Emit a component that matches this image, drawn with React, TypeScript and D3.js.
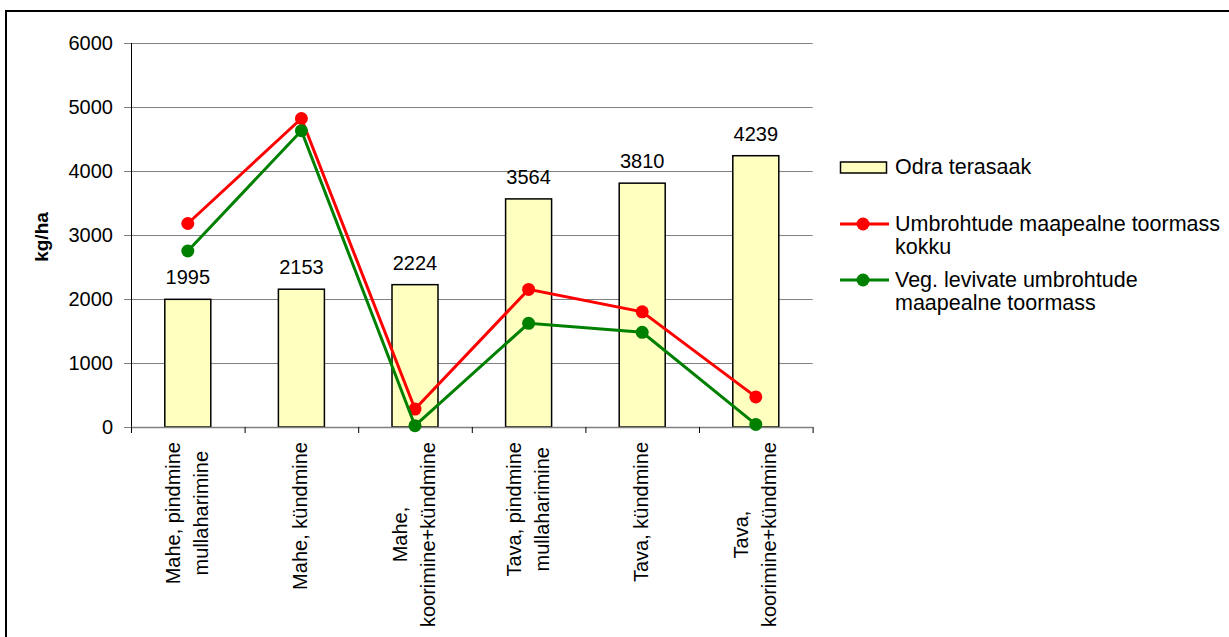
import React, { useEffect, useRef } from "react";
import * as d3 from "d3";

const categories: string[][] = [
  ["Mahe, pindmine", "mullaharimine"],
  ["Mahe, kündmine"],
  ["Mahe,", "koorimine+kündmine"],
  ["Tava, pindmine", "mullaharimine"],
  ["Tava, kündmine"],
  ["Tava,", "koorimine+kündmine"],
];
const barValues = [1995, 2153, 2224, 3564, 3810, 4239];
const redValues = [3180, 4820, 280, 2150, 1800, 470];
const greenValues = [2750, 4630, 20, 1620, 1480, 40];
const yTicks = [0, 1000, 2000, 3000, 4000, 5000, 6000];
const legendBar = "Odra terasaak";
const legendRed = ["Umbrohtude maapealne toormass", "kokku"];
const legendGreen = ["Veg. levivate umbrohtude", "maapealne toormass"];
const yTitle = "kg/ha";

const FONT = "'Liberation Sans', Arial, sans-serif";

export default function App() {
  const ref = useRef<SVGSVGElement | null>(null);

  useEffect(() => {
    const svg = d3.select(ref.current);
    svg.selectAll("*").remove();

    const left = 131, right = 812.6, top = 43, bottom = 427;
    const idx = categories.map((_, i) => String(i));
    const x = d3.scaleBand<string>().domain(idx).range([left, right]).padding(0);
    const y = d3.scaleLinear().domain([0, 6000]).range([bottom, top]);
    const cx = (i: number) => (x(String(i)) as number) + x.bandwidth() / 2;

    // outer border
    svg.append("rect").attr("x", 6).attr("y", 11).attr("width", 1300).attr("height", 700)
      .attr("fill", "none").attr("stroke", "#000").attr("stroke-width", 2);

    // grid lines
    svg.append("g").selectAll("line").data(yTicks.filter((t) => t > 0)).join("line")
      .attr("x1", left).attr("x2", right)
      .attr("y1", (d) => y(d) + 0.5).attr("y2", (d) => y(d) + 0.5)
      .attr("stroke", "#808080").attr("stroke-width", 1);

    // y ticks
    svg.append("g").selectAll("line").data(yTicks).join("line")
      .attr("x1", left - 7).attr("x2", left)
      .attr("y1", (d) => y(d) + 0.5).attr("y2", (d) => y(d) + 0.5)
      .attr("stroke", "#808080").attr("stroke-width", 1);
    svg.append("g").selectAll("text").data(yTicks).join("text")
      .attr("x", 113).attr("y", (d) => y(d) + 7)
      .attr("text-anchor", "end").attr("font-family", FONT).attr("font-size", 20)
      .attr("fill", "#000").text((d) => String(d));

    // bars
    const bw = 46;
    svg.append("g").selectAll("rect").data(barValues).join("rect")
      .attr("x", (_, i) => cx(i) - bw / 2).attr("width", bw)
      .attr("y", (d) => y(d)).attr("height", (d) => bottom - y(d))
      .attr("fill", "#FFFFC0").attr("stroke", "#000").attr("stroke-width", 1.5);
    svg.append("g").selectAll("text").data(barValues).join("text")
      .attr("x", (_, i) => cx(i)).attr("y", (d) => y(d) - 15)
      .attr("text-anchor", "middle").attr("font-family", FONT).attr("font-size", 20)
      .attr("fill", "#000").text((d) => String(d));

    // axes lines
    svg.append("line").attr("x1", left + 0.5).attr("x2", left + 0.5).attr("y1", top).attr("y2", bottom + 6)
      .attr("stroke", "#000").attr("stroke-width", 1);
    svg.append("line").attr("x1", left).attr("x2", right).attr("y1", bottom + 0.5).attr("y2", bottom + 0.5)
      .attr("stroke", "#808080").attr("stroke-width", 1.5);
    svg.append("g").selectAll("line").data(d3.range(categories.length + 1)).join("line")
      .attr("x1", (i) => left + i * x.bandwidth() + 0.5).attr("x2", (i) => left + i * x.bandwidth() + 0.5)
      .attr("y1", bottom).attr("y2", bottom + 6)
      .attr("stroke", "#000").attr("stroke-width", 1);

    // lines
    const line = d3.line<number>().x((_, i) => cx(i)).y((d) => y(d));
    const drawSeries = (vals: number[], color: string) => {
      svg.append("path").datum(vals).attr("d", line).attr("fill", "none")
        .attr("stroke", color).attr("stroke-width", 3);
      svg.append("g").selectAll("circle").data(vals).join("circle")
        .attr("cx", (_, i) => cx(i)).attr("cy", (d) => y(d)).attr("r", 6.5).attr("fill", color);
    };
    drawSeries(redValues, "#FF0000");
    drawSeries(greenValues, "#008000");

    // x labels
    categories.forEach((lines, i) => {
      const g = svg.append("g").attr("transform", `translate(${cx(i)},442) rotate(-90)`);
      const texts = lines.map((l, j) =>
        g.append("text").attr("font-family", FONT).attr("font-size", 20).attr("fill", "#000")
          .attr("y", 6 + (j - (lines.length - 1) / 2) * 28).text(l)
      );
      const widths = texts.map((t) => (t.node() as SVGTextElement).getComputedTextLength());
      const W = Math.max(...widths);
      texts.forEach((t) => t.attr("x", -W / 2).attr("text-anchor", "middle"));
    });

    // y title
    svg.append("text").attr("transform", "translate(48,237) rotate(-90)")
      .attr("text-anchor", "middle").attr("font-family", FONT).attr("font-size", 19)
      .attr("font-weight", "bold").attr("fill", "#000").text(yTitle);

    // legend
    const lg = svg.append("g").attr("font-family", FONT).attr("font-size", 21.5).attr("fill", "#000");
    lg.append("rect").attr("x", 840.5).attr("y", 162).attr("width", 46).attr("height", 11)
      .attr("fill", "#FFFFC0").attr("stroke", "#000").attr("stroke-width", 1.5);
    lg.append("text").attr("x", 895).attr("y", 174).text(legendBar);
    const legLine = (yy: number, color: string, labels: string[], baseline: number) => {
      lg.append("line").attr("x1", 840).attr("x2", 889).attr("y1", yy).attr("y2", yy)
        .attr("stroke", color).attr("stroke-width", 3);
      lg.append("circle").attr("cx", 863).attr("cy", yy).attr("r", 6.5).attr("fill", color);
      labels.forEach((l, j) => lg.append("text").attr("x", 895).attr("y", baseline + j * 23).text(l));
    };
    legLine(224, "#FF0000", legendRed, 231);
    legLine(280, "#008000", legendGreen, 287);
  }, []);

  return (
    <svg ref={ref} width={1229} height={637}
      style={{ position: "absolute", left: 0, top: 0, background: "#fff" }} />
  );
}
